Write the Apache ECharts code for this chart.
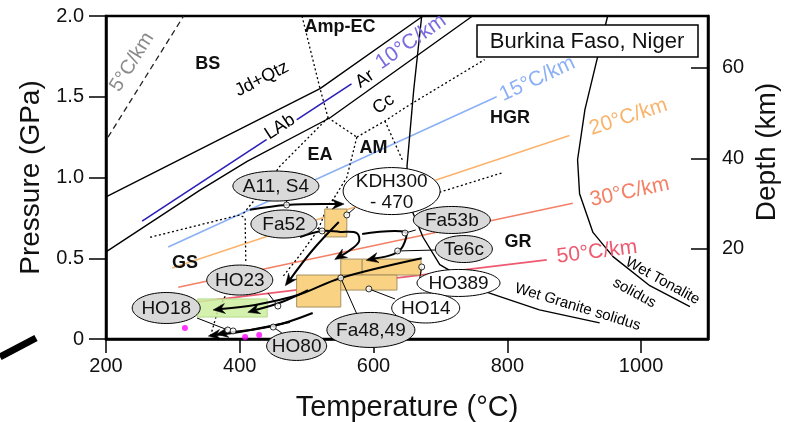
<!DOCTYPE html>
<html>
<head>
<meta charset="utf-8">
<script src="https://cdn.jsdelivr.net/npm/echarts/dist/echarts.min.js"></script>
<style>
html, body { margin: 0; padding: 0; background: #fff; }
#chart { width: 787px; height: 422px; }
</style>
</head>
<body>
<div id="chart"></div>
<script>
// ---- axis ticks ----
const tempTicks = [200, 400, 600, 800, 1000];
const pressureTicks = [0, 0.5, 1.0, 1.5, 2.0];
const depthTicks = [20, 40, 60];

// ---- geotherms, [T (°C), P (GPa)] ----
const geo5 = [[203, 1.25], [316, 2.0]];
const geo10 = [[254, 0.73], [567, 1.58]];
const geo15 = [[293, 0.57], [784, 1.50]];
const geo20 = [[299, 0.44], [893, 1.26]];
const geo30 = [[308, 0.32], [898, 0.84]];
const geo50 = [[337, 0.23], [859, 0.49]];

// ---- reactions and solidi ----
const jdQtz = [[200, 0.88], [520, 1.55], [674, 2.0]];
const arCc = [[200, 0.54], [340, 0.92], [411, 1.10], [535, 1.37], [748, 2.0]];
const wetGranite = [[672, 2.0], [660, 1.54], [650, 1.07], [654, 0.83], [674, 0.63], [699, 0.46], [769, 0.29], [848, 0.18], [938, 0.10]];
const wetTonalite = [[950, 2.0], [934, 1.73], [916, 1.42], [905, 1.11], [908, 0.90], [928, 0.66], [958, 0.51], [1013, 0.33], [1073, 0.20]];

// ---- metamorphic facies boundaries ----
const faciesBounds = [
  [[493, 2.0], [520, 1.55], [532, 1.37]],
  [[532, 1.37], [575, 1.25]],
  [[575, 1.25], [617, 1.35], [650, 1.44], [766, 1.73]],
  [[617, 1.35], [644, 1.10]],
  [[575, 1.25], [560, 1.00], [539, 0.86], [532, 0.83], [517, 0.675], [490, 0.52], [464, 0.384]],
  [[532, 1.37], [460, 1.07], [430, 0.90], [404, 0.77]],
  [[266, 0.63], [400, 0.768], [408, 0.749], [409, 0.477]],
  [[381, 0.29], [366, 0.16], [355, 0.0]],
  [[692, 0.90], [793, 1.03]]
];
const faciesNames = ['BS', 'Amp-EC', 'EA', 'AM', 'HGR', 'GS', 'GR'];
const faciesAt = [[352, 1.70], [550, 1.93], [520, 1.14], [600, 1.18], [804, 1.37], [318, 0.47], [816, 0.60]];

// ---- curve labels ----
const curveNames = ['Jd+Qtz', 'LAb', 'Ar', 'Cc', '5°C/km', '10°C/km', '15°C/km', '20°C/km', '30°C/km', '50°C/km', 'Wet Granite solidus', 'Wet Tonalite', 'solidus'];
const curveAt = [[433, 1.61], [460, 1.313], [587, 1.61], [615, 1.455], [239, 1.715], [656, 1.84], [845, 1.61], [981, 1.375], [983, 0.91], [934, 0.539], [905, 0.198], [1032, 0.359], [990, 0.285]];

// ---- samples ----
const sampleNames = ['A11, S4', 'KDH300\n- 470', 'Fa52', 'Fa53b', 'Te6c', 'HO389', 'HO14', 'Fa48,49', 'HO80', 'HO18', 'HO23'];
const sampleAt = [[454, 0.947], [627, 0.916], [466, 0.712], [717, 0.737], [735, 0.557], [727, 0.347], [678, 0.192], [596, 0.056], [485, -0.043], [290, 0.192], [400, 0.365]];
const samplePT = [[470, 0.83], [523, 0.669], [560, 0.768], [647, 0.656], [636, 0.545], [551, 0.378], [593, 0.31], [672, 0.446], [457, 0.204], [382, 0.056], [390, 0.050], [450, 0.074]];
const leaders = [
  [[470, 0.855], [470, 0.83]],
  [[572, 0.811], [560, 0.768]],
  [[515, 0.687], [523, 0.669]],
  [[663, 0.675], [647, 0.656]],
  [[693, 0.551], [636, 0.545]],
  [[669, 0.378], [672, 0.446]],
  [[632, 0.248], [593, 0.31]],
  [[575, 0.155], [551, 0.378]],
  [[442, 0.285], [457, 0.204]],
  [[336, 0.130], [382, 0.056]],
  [[463, 0.037], [450, 0.074]]
];
// P-T paths (arrow at the last point)
const ptPaths = [
  [[415, 0.80], [470, 0.83], [556, 0.836]],
  [[548, 0.724], [509, 0.551], [468, 0.330]],
  [[490, 0.632], [523, 0.669], [550, 0.663], [575, 0.656], [578, 0.601], [563, 0.545], [542, 0.492]],
  [[583, 0.65], [647, 0.663], [644, 0.576], [630, 0.526], [589, 0.487]],
  [[672, 0.50], [551, 0.378], [487, 0.272], [423, 0.211], [360, 0.18]],
  [[502, 0.303], [463, 0.229], [412, 0.165]],
  [[509, 0.161], [450, 0.080], [365, 0.030]],
  [[475, 0.105], [408, 0.050], [353, 0.018]]
];
// P-T estimate boxes [Tmin, Tmax, Pmin, Pmax]
const ptBoxes = [[527, 560, 0.632, 0.805], [551, 583, 0.396, 0.495], [583, 671, 0.396, 0.495], [485, 551, 0.198, 0.396], [551, 635, 0.303, 0.396]];
const greenBox = [[337, 441, 0.136, 0.248]];
const magentaPts = [[318, 0.068], [408, 0.012], [429, 0.025]];

// ---- styles ----
const FONT = '"Liberation Sans", Arial, Helvetica, sans-serif';
const ellipseSize = [[86, 30], [97, 47], [66, 28], [77, 27], [57, 27], [83, 27], [68, 30], [88, 35], [60, 29], [68, 31], [66, 30]];
const ellipseShaded = [true, false, true, true, true, false, false, true, true, true, true];
const curveStyle = [
  [27, '#000', 18], [33, '#000', 18], [35, '#000', 18], [35, '#000', 18],
  [58, '#8a8a8a', 20], [35, '#7b6be0', 21], [25, '#8cb0f5', 21], [18, '#f9b46c', 21],
  [12, '#f48066', 21], [7, '#ee5a70', 21], [-17, '#000', 15], [-29, '#000', 15], [-29, '#000', 15]
];

function lineSeries(data, color, width, type, z) {
  return {
    type: 'line', data: data, showSymbol: false, symbol: 'none', silent: true, z: z || 2,
    lineStyle: { color: color, width: width, type: type || 'solid' }
  };
}

const series = [
  lineSeries(geo5, '#222', 1.3, [6, 4]),
  lineSeries(geo10, '#2a1fb8', 1.6),
  lineSeries(geo15, '#8cb0f5', 1.6),
  lineSeries(geo20, '#f9b46c', 1.6),
  lineSeries(geo30, '#f48066', 1.6),
  lineSeries(geo50, '#ee5a70', 1.6),
  lineSeries(jdQtz, '#000', 1.4),
  lineSeries(arCc, '#000', 1.4),
  lineSeries(wetGranite, '#000', 1.4),
  lineSeries(wetTonalite, '#000', 1.4)
];
faciesBounds.forEach(function (b) { series.push(lineSeries(b, '#000', 1.3, [2, 2.5])); });

// boxes
function boxSeries(data, fill, stroke, z) {
  return {
    type: 'custom', data: data, z: z, silent: true, clip: false,
    encode: { x: [0, 1], y: [2, 3] },
    renderItem: function (params, api) {
      const a = api.coord([api.value(0), api.value(3)]);
      const b = api.coord([api.value(1), api.value(2)]);
      return { type: 'rect', shape: { x: a[0], y: a[1], width: b[0] - a[0], height: b[1] - a[1] },
        style: { fill: fill, stroke: stroke, lineWidth: 1 } };
    }
  };
}
series.push(boxSeries(greenBox, 'rgba(205,240,160,0.85)', '#b5d98a', 3));
series.push(boxSeries(ptBoxes, '#f9d383', '#a89060', 3));

// leader lines
series.push({
  type: 'lines', coordinateSystem: 'cartesian2d', polyline: true, silent: true, z: 4,
  data: leaders.map(function (c) { return { coords: c }; }),
  lineStyle: { color: '#000', width: 1, opacity: 1 }
});
// P-T paths: smoothed polyline plus a notched arrow head
series.push({
  type: 'custom', z: 5, silent: true, clip: false,
  data: ptPaths.map(function (p, i) { return [p[p.length - 1][0], p[p.length - 1][1], i]; }),
  encode: { x: 0, y: 1 },
  renderItem: function (params, api) {
    const path = ptPaths[api.value(2)];
    const pts = path.map(function (d) { return api.coord(d); });
    const tip = pts[pts.length - 1], prev = pts[pts.length - 2];
    const dx = tip[0] - prev[0], dy = tip[1] - prev[1];
    const len = Math.sqrt(dx * dx + dy * dy);
    const ux = dx / len, uy = dy / len, nx = -uy, ny = ux;
    const L = 12, W = 5, N = 8;
    const head = [
      tip,
      [tip[0] - ux * L + nx * W, tip[1] - uy * L + ny * W],
      [tip[0] - ux * N, tip[1] - uy * N],
      [tip[0] - ux * L - nx * W, tip[1] - uy * L - ny * W]
    ];
    const body = pts.slice(0, -1).concat([[tip[0] - ux * N, tip[1] - uy * N]]);
    return { type: 'group', children: [
      { type: 'polyline', shape: { points: body, smooth: 0.35 }, style: { stroke: '#000', lineWidth: 2, fill: null } },
      { type: 'polygon', shape: { points: head }, style: { fill: '#000', stroke: '#000', lineWidth: 0.5 } }
    ] };
  }
});
// sample points
series.push({
  type: 'scatter', data: samplePT, symbol: 'circle', symbolSize: 6, silent: true, z: 6, clip: false,
  itemStyle: { color: '#fff', borderColor: '#000', borderWidth: 1 }
});
series.push({
  type: 'scatter', data: magentaPts, symbol: 'circle', symbolSize: 6, silent: true, z: 6, clip: false,
  itemStyle: { color: '#ff00ff' }
});
// sample ellipses
series.push({
  type: 'custom', data: sampleAt, z: 7, silent: true, clip: false,
  encode: { x: 0, y: 1 },
  renderItem: function (params, api) {
    const i = params.dataIndex;
    const c = api.coord([api.value(0), api.value(1)]);
    const w = ellipseSize[i][0] / 2, h = ellipseSize[i][1] / 2;
    const pts = [];
    for (let k = 0; k < 72; k++) {
      const a = k / 72 * Math.PI * 2;
      pts.push([c[0] + w * Math.cos(a), c[1] + h * Math.sin(a)]);
    }
    return { type: 'group', children: [
      { type: 'polygon', shape: { points: pts }, style: { fill: ellipseShaded[i] ? '#d9d9d9' : '#fff', stroke: '#000', lineWidth: 1 } },
      { type: 'text', x: c[0], y: c[1] + 1, style: { text: sampleNames[i], font: '19px ' + FONT, fill: '#111', align: 'center', verticalAlign: 'middle', lineHeight: 21 } }
    ] };
  }
});
// facies labels
series.push({
  type: 'custom', data: faciesAt, z: 8, silent: true, clip: false,
  encode: { x: 0, y: 1 },
  renderItem: function (params, api) {
    const c = api.coord([api.value(0), api.value(1)]);
    return { type: 'text', x: c[0], y: c[1], style: { text: faciesNames[params.dataIndex], font: 'bold 18px ' + FONT, fill: '#111', align: 'center', verticalAlign: 'middle' } };
  }
});
// curve labels
series.push({
  type: 'custom', data: curveAt, z: 8, silent: true, clip: false,
  encode: { x: 0, y: 1 },
  renderItem: function (params, api) {
    const i = params.dataIndex;
    const c = api.coord([api.value(0), api.value(1)]);
    const st = curveStyle[i];
    return { type: 'text', x: c[0], y: c[1], rotation: st[0] * Math.PI / 180,
      style: { text: curveNames[i], font: st[2] + 'px ' + FONT, fill: st[1], align: 'center', verticalAlign: 'middle',
        backgroundColor: i === 1 || i === 2 ? '#fff' : null, padding: [0, 2] } };
  }
});

const chart = echarts.init(document.getElementById('chart'), null, { renderer: 'canvas' });
chart.setOption({
  animation: false,
  backgroundColor: '#fff',
  grid: { left: 106, right: 79, top: 16, bottom: 83, outerBoundsMode: 'none', containLabel: false,
    show: true, borderColor: '#000', borderWidth: 2.5, backgroundColor: 'transparent' },
  xAxis: {
    type: 'value', min: 200, max: 1100, interval: 100,
    name: 'Temperature (°C)', nameLocation: 'middle', nameGap: 54,
    nameTextStyle: { fontFamily: FONT, fontSize: 29, color: '#111' },
    axisLine: { lineStyle: { color: '#000', width: 2.5 } },
    axisTick: { show: true, length: 14, lineStyle: { color: '#000', width: 1.5 }, customValues: tempTicks },
    axisLabel: { fontFamily: FONT, fontSize: 20, color: '#111', margin: 17, customValues: tempTicks,
      formatter: function (v) { return String(v); } },
    splitLine: { show: false }
  },
  yAxis: [{
    type: 'value', min: 0, max: 2.0, interval: 0.5,
    name: 'Pressure (GPa)', nameLocation: 'middle', nameGap: 56, nameRotate: 90,
    nameTextStyle: { fontFamily: FONT, fontSize: 28, color: '#111' },
    axisLine: { lineStyle: { color: '#000', width: 2.5 } },
    axisTick: { show: true, length: 17, lineStyle: { color: '#000', width: 1.5 }, customValues: pressureTicks },
    axisLabel: { fontFamily: FONT, fontSize: 20, color: '#111', margin: 22, customValues: pressureTicks,
      formatter: function (v) { return v === 0 ? '0' : v.toFixed(1); } },
    splitLine: { show: false }
  }, {
    type: 'value', min: 0, max: 71.5, interval: 20, position: 'right',
    axisLine: { show: true, lineStyle: { color: '#000', width: 2.5 } },
    axisTick: { show: true, inside: true, length: 17, lineStyle: { color: '#000', width: 1.5 }, customValues: depthTicks },
    axisLabel: { fontFamily: FONT, fontSize: 20, color: '#111', margin: 14, customValues: depthTicks },
    splitLine: { show: false }
  }],
  graphic: [
    { type: 'line', shape: { x1: 0, y1: 357, x2: 36, y2: 338 }, style: { stroke: '#000', lineWidth: 7 } },
    { type: 'rect', shape: { x: 477, y: 25, width: 221, height: 32 }, style: { fill: '#fff', stroke: '#000', lineWidth: 1.5 }, z: 100 },
    { type: 'text', x: 587, y: 42, style: { text: 'Burkina Faso, Niger', font: '22px ' + FONT, fill: '#111', align: 'center', verticalAlign: 'middle' }, z: 101 },
    { type: 'text', x: 767, y: 152, rotation: Math.PI / 2, style: { text: 'Depth (km)', font: '28px ' + FONT, fill: '#111', align: 'center', verticalAlign: 'middle' }, z: 101 }
  ],
  series: series
});
</script>
</body>
</html>
